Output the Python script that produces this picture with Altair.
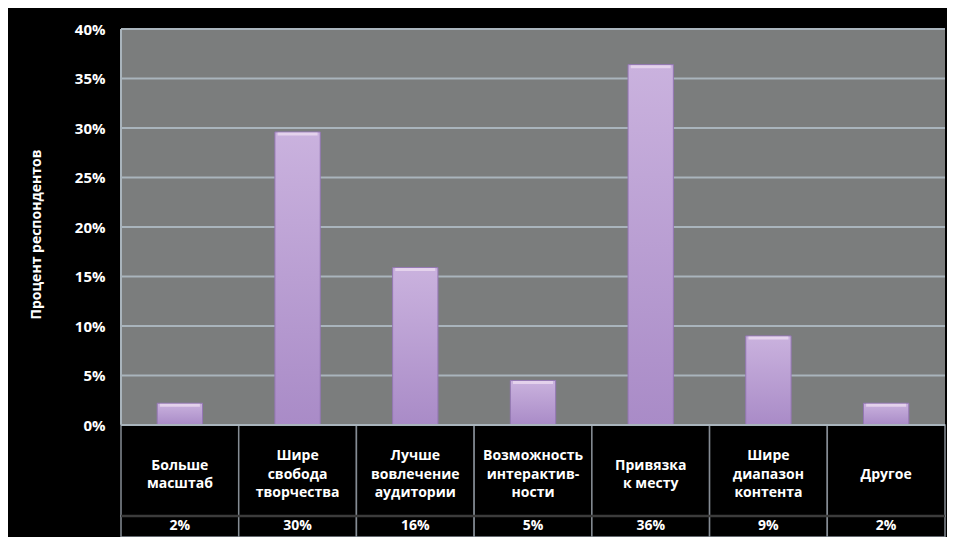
import altair as alt
import pandas as pd

# ---- data ----
categories = [
    "Больше\nмасштаб",
    "Шире\nсвобода\nтворчества",
    "Лучше\nвовлечение\nаудитории",
    "Возможность\nинтерактив-\nности",
    "Привязка\nк месту",
    "Шире\nдиапазон\nконтента",
    "Другое",
]
values = [2.2, 29.6, 15.9, 4.5, 36.4, 9.0, 2.2]
table_labels = ["2%", "30%", "16%", "5%", "36%", "9%", "2%"]
y_ticks = [0, 5, 10, 15, 20, 25, 30, 35, 40]
y_title = "Процент респондентов"

# ---- layout constants (in y-scale units) ----
W, H = 824, 508
Y_MAX = 40
Y_MIN = -(H / 9.9 - Y_MAX)
ROW_SPLIT = -9.19
LABEL_Y = -5.05
VALUE_Y = -10.25
LINE_H = 18.5

FONT = "Open Sans"

df = pd.DataFrame({"cat": categories, "value": values, "pct": table_labels})
df["n"] = [c.count("\n") + 1 for c in categories]
one = pd.DataFrame({"k": [0]})
grid_df = pd.DataFrame({"tick": y_ticks})

xenc = alt.X("cat:N", sort=categories, axis=None,
             scale=alt.Scale(paddingInner=0, paddingOuter=0))
yscale = alt.Scale(domain=[Y_MIN, Y_MAX], nice=False, zero=False)

# gray plot background (0% .. 40%)
bg = alt.Chart(one).mark_rect(color="#7b7d7d").encode(
    x=alt.value(0), x2=alt.value("width"),
    y=alt.Y(datum=0, type="quantitative", scale=yscale,
            axis=alt.Axis(values=y_ticks, labelExpr="datum.value + '%'",
                          grid=False, domain=False, ticks=False,
                          labelPadding=16, labelFontSize=15, labelFont=FONT,
                          labelFontWeight="bold", labelColor="white",
                          title=y_title, titleFont=FONT, titleFontSize=14,
                          titleFontWeight="bold", titleColor="white",
                          titleAngle=270, titleAlign="center", titleBaseline="middle",
                          titleX=-85, titleY=205)),
    y2=alt.datum(40),
)

grid = alt.Chart(grid_df).mark_rule(color="#a9b4bc", strokeWidth=2).encode(
    y=alt.Y("tick:Q", scale=yscale)
)

left_border = alt.Chart(one).mark_rule(color="#a9b4bc", strokeWidth=2).encode(
    x=alt.value(0), y=alt.datum(0), y2=alt.datum(40)
)

bar_gradient = {
    "gradient": "linear", "x1": 0, "x2": 0, "y1": 0, "y2": 1,
    "stops": [
        {"offset": 0, "color": "#cab2de"},
        {"offset": 1, "color": "#a98bc7"},
    ],
}
bars = alt.Chart(df).mark_bar(
    color=bar_gradient, width=alt.RelativeBandSize(0.385),
    stroke="#9477b4", strokeWidth=1,
).encode(x=xenc, y=alt.Y("value:Q", scale=yscale), y2=alt.datum(0))

bevel = alt.Chart(df).mark_tick(
    color="#efe0f2", thickness=3, orient="horizontal", size=40, yOffset=2,
).encode(x=xenc, y=alt.Y("value:Q", scale=yscale))

cells1 = alt.Chart(df).mark_rect(fill="black", stroke="#858c94", strokeWidth=1.5).encode(
    x=xenc, y=alt.datum(0), y2=alt.datum(ROW_SPLIT)
)
cells2 = alt.Chart(df).mark_rect(fill="black", stroke="#858c94", strokeWidth=1.5).encode(
    x=xenc, y=alt.datum(ROW_SPLIT), y2=alt.datum(Y_MIN)
)
divider = alt.Chart(one).mark_rule(color="#3c3c3c", strokeWidth=2.5).encode(
    y=alt.datum(ROW_SPLIT)
)
top_line = alt.Chart(one).mark_rule(color="#a9b4bc", strokeWidth=2).encode(
    y=alt.datum(0)
)

cat_layers = []
for n in sorted(set(df["n"])):
    cat_layers.append(
        alt.Chart(df).transform_filter(alt.datum.n == n).mark_text(
            color="white", font=FONT, fontSize=14, fontWeight="bold",
            lineBreak="\n", lineHeight=LINE_H, baseline="middle", align="center",
            dy=-(n - 1) * LINE_H / 2,
        ).encode(x=xenc, y=alt.datum(LABEL_Y), text="cat:N")
    )

val_text = alt.Chart(df).mark_text(
    color="white", font=FONT, fontSize=14, fontWeight="bold",
    baseline="middle", align="center",
).encode(x=xenc, y=alt.datum(VALUE_Y), text="pct:N")

chart = alt.layer(
    bg, grid, left_border, bars, bevel, cells1, cells2, divider, top_line,
    *cat_layers, val_text,
).properties(
    width=W, height=H,
    autosize=alt.AutoSizeParams(type="none"),
    padding={"left": 113, "top": 21, "right": 2, "bottom": 0},
).configure(background="black").configure_view(stroke=None)

chart.save("out.html", embed_options={"renderer": "svg", "actions": False})
